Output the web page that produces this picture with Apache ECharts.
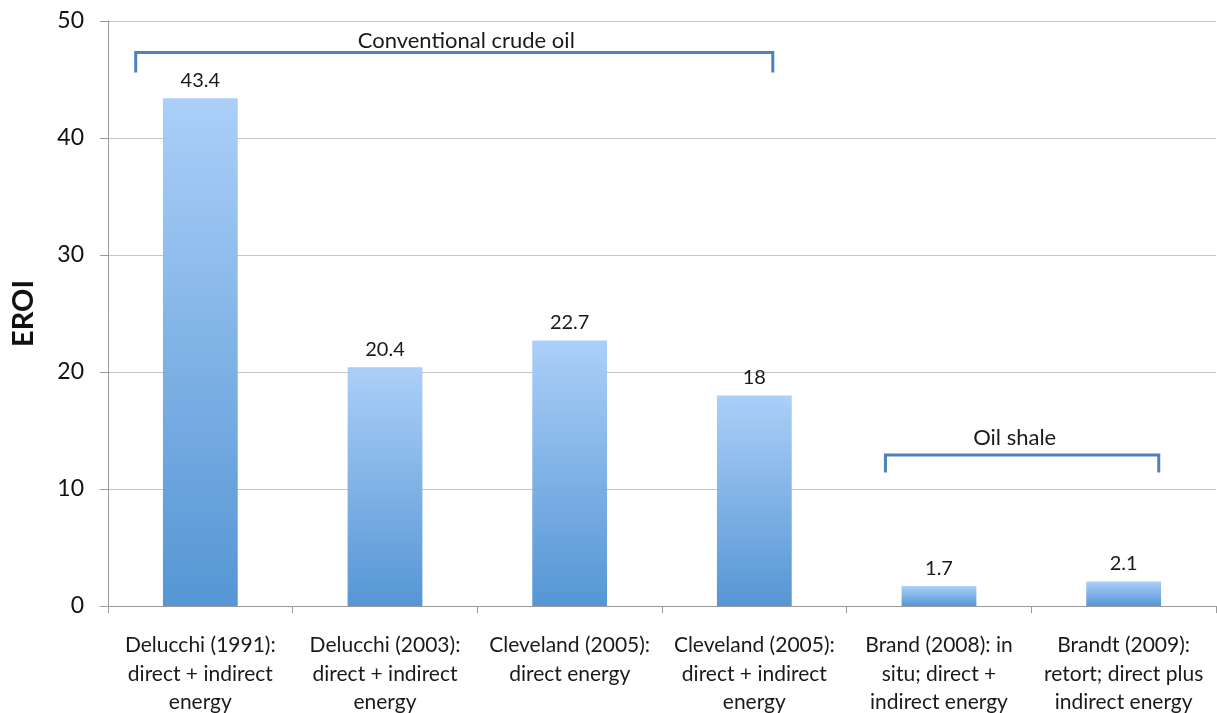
<!DOCTYPE html>
<html><head><meta charset="utf-8">
<script src="https://cdn.jsdelivr.net/npm/echarts@6/dist/echarts.min.js"></script>
<style>html,body{margin:0;padding:0;background:#fff}#c{width:1217px;height:713px}</style>
</head><body><div id="c"></div>
<script>
const categories = [
  "Delucchi (1991):\ndirect + indirect\nenergy",
  "Delucchi (2003):\ndirect + indirect\nenergy",
  "Cleveland (2005):\ndirect energy",
  "Cleveland (2005):\ndirect + indirect\nenergy",
  "Brand (2008): in\nsitu; direct +\nindirect energy",
  "Brandt (2009):\nretort; direct plus\nindirect energy"
];
const eroiValues = [43.4, 20.4, 22.7, 18, 1.7, 2.1];
const valueLabels = ["43.4", "20.4", "22.7", "18", "1.7", "2.1"];
const yTicks = [0, 10, 20, 30, 40, 50];
// brackets (x in category-index units, y in EROI units)
const bracketStart = [-0.35, 3.71];
const bracketEnd = [3.1, 5.19];
const bracketTop = [47.3, 12.9];
const bracketFoot = [45.6, 11.4];
const bracketLabelX = [1.44, 4.41];
const bracketLabelY = [48.3, 14.4];
const bracketText = ["Conventional crude oil", "Oil shale"];

const FONT = "Lato";
const chart = echarts.init(document.getElementById('c'), null, {renderer: 'canvas'});
const bracketData = bracketText.map((t, i) => [bracketStart[i], bracketEnd[i], bracketTop[i], bracketFoot[i], bracketLabelX[i], bracketLabelY[i], t]);

chart.setOption({
  animation: false,
  backgroundColor: '#fff',
  textStyle: {fontFamily: FONT},
  grid: {left: 108, right: 1, top: 21, bottom: 107, outerBoundsMode: 'none', containLabel: false},
  xAxis: [{
    type: 'category',
    data: categories,
    axisLine: {lineStyle: {color: '#9a9a9a', width: 1}},
    axisTick: {show: true, length: 7, lineStyle: {color: '#9a9a9a'}},
    axisLabel: {color: '#1a1a1a', fontSize: 21, lineHeight: 28.5, margin: 25, fontFamily: FONT, interval: 0}
  }, {
    type: 'value', min: -0.5, max: 5.5, show: false
  }],
  yAxis: {
    type: 'value', min: yTicks[0], max: yTicks[yTicks.length - 1], interval: 10,
    name: 'EROI', nameLocation: 'middle', nameGap: 70,
    nameTextStyle: {fontSize: 29, fontWeight: 'bold', color: '#111', fontFamily: FONT},
    axisLine: {show: true, onZero: false, lineStyle: {color: '#9a9a9a'}},
    axisTick: {show: true, length: 8, lineStyle: {color: '#9a9a9a'}},
    axisLabel: {color: '#111', fontSize: 23, margin: 24, fontFamily: FONT},
    splitLine: {lineStyle: {color: '#c4c4c4', width: 1}}
  },
  series: [{
    type: 'bar',
    data: eroiValues,
    barWidth: '40.5%',
    itemStyle: {
      color: new echarts.graphic.LinearGradient(0, 0, 0, 1, [
        {offset: 0, color: '#abcff8'},
        {offset: 1, color: '#5596d4'}
      ])
    },
    label: {
      show: true, position: 'top', distance: 8,
      formatter: p => valueLabels[p.dataIndex],
      color: '#1a1a1a', fontSize: 20, fontFamily: FONT
    }
  }, {
    type: 'custom',
    xAxisIndex: 1,
    data: bracketData,
    renderItem: function (params, api) {
      const a = api.coord([api.value(0), api.value(2)]);
      const b = api.coord([api.value(1), api.value(2)]);
      const aF = api.coord([api.value(0), api.value(3)]);
      const bF = api.coord([api.value(1), api.value(3)]);
      const l = api.coord([api.value(4), api.value(5)]);
      return {
        type: 'group',
        children: [{
          type: 'polyline',
          shape: {points: [aF, a, b, bF]},
          style: {stroke: '#4f81bd', lineWidth: 3, fill: null, lineJoin: 'miter'}
        }, {
          type: 'text',
          style: {
            text: bracketData[params.dataIndex][6],
            x: l[0], y: l[1], align: 'center', verticalAlign: 'middle',
            fontSize: 22, fontFamily: FONT, fill: '#1a1a1a'
          }
        }]
      };
    }
  }]
});
</script></body></html>
